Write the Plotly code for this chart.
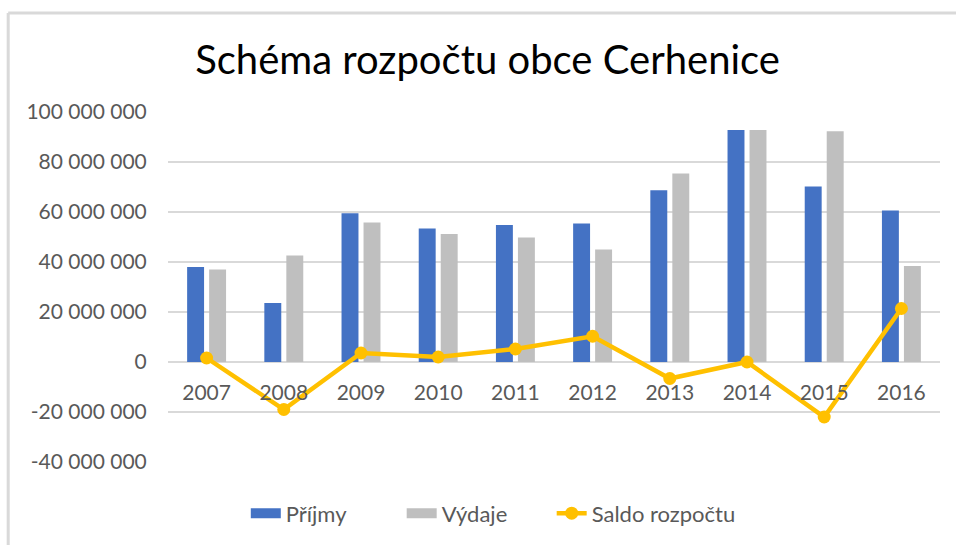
import plotly.graph_objects as go

# data
roky = ["2007", "2008", "2009", "2010", "2011", "2012", "2013", "2014", "2015", "2016"]
prijmy = [38.0e6, 23.6e6, 59.5e6, 53.4e6, 54.8e6, 55.4e6, 68.7e6, 92.8e6, 70.2e6, 60.6e6]
vydaje = [37.0e6, 42.6e6, 55.8e6, 51.2e6, 49.8e6, 45.0e6, 75.4e6, 92.8e6, 92.3e6, 38.4e6]
saldo = [1.6e6, -19.0e6, 3.6e6, 2.0e6, 5.2e6, 10.3e6, -6.6e6, 0.0, -22.0e6, 21.4e6]

y_ticks = [-40e6, -20e6, 0, 20e6, 40e6, 60e6, 80e6, 100e6]
y_ticktext = ["-40 000 000", "-20 000 000", "0", "20 000 000", "40 000 000",
              "60 000 000", "80 000 000", "100 000 000"]

FONT = "Lato"
GREY_TXT = "#595959"
GRID = "#D9D9D9"
BLUE, SILVER, GOLD = "#4472C4", "#BFBFBF", "#FFC000"
NBSP = "\u00a0"

fig = go.Figure()
fig.add_trace(go.Bar(x=roky, y=prijmy, name="Příjmy", marker_color=BLUE,
                     marker_line_width=0, showlegend=False))
fig.add_trace(go.Bar(x=roky, y=vydaje, name="Výdaje", marker_color=SILVER,
                     marker_line_width=0, showlegend=False))
# legend-only entries so the bar keys are wide blocks like in Excel
# (trailing no-break spaces widen the gaps between legend items)
fig.add_trace(go.Scatter(x=[None], y=[None], name="Příjmy" + NBSP * 9, mode="lines",
                         line=dict(color=BLUE, width=12)))
fig.add_trace(go.Scatter(x=[None], y=[None], name="Výdaje" + NBSP * 7, mode="lines",
                         line=dict(color=SILVER, width=12)))
fig.add_trace(go.Scatter(x=roky, y=saldo, name="Saldo rozpočtu", mode="lines+markers",
                         line=dict(color=GOLD, width=4.5),
                         marker=dict(size=13, color=GOLD)))

y_min, y_max = -40e6, 100e6

fig.update_layout(
    width=956, height=545,
    margin=dict(l=168, r=16, t=112, b=83, autoexpand=False),
    paper_bgcolor="white", plot_bgcolor="white",
    barmode="group", bargap=0.43, bargroupgap=0.23,
    font=dict(family=FONT, color=GREY_TXT, size=21),
    title=dict(text="Schéma rozpočtu obce Cerhenice", xref="container", x=0.51,
               xanchor="center", yref="container", y=0.89, yanchor="middle",
               font=dict(family=FONT, size=40, color="#000000")),
    legend=dict(orientation="h", xref="container", yref="container", x=0.516, y=0.058,
                xanchor="center", yanchor="middle", font=dict(size=22, color=GREY_TXT),
                tracegroupgap=0),
    xaxis=dict(anchor="free", position=(0 - y_min) / (y_max - y_min),
               range=[-0.5, len(roky) - 0.5],
               showline=False, showgrid=False, ticks="outside", ticklen=12,
               tickcolor="rgba(0,0,0,0)", tickfont=dict(size=21, color=GREY_TXT)),
    yaxis=dict(range=[y_min, y_max], tickvals=y_ticks, ticktext=y_ticktext,
               showgrid=True, gridcolor=GRID, gridwidth=2, zeroline=True,
               zerolinecolor=GRID, zerolinewidth=2, ticks="outside", ticklen=16,
               tickcolor="rgba(0,0,0,0)", tickfont=dict(size=21, color=GREY_TXT)),
)

# chart frame: only the top and left edge are visible in the reference
fig.add_shape(type="line", xref="paper", yref="paper", x0=-0.207, x1=1.03, y0=1.283, y1=1.283,
              line=dict(color=GRID, width=3))
fig.add_shape(type="line", xref="paper", yref="paper", x0=-0.207, x1=-0.207, y0=1.283, y1=-0.25,
              line=dict(color=GRID, width=3))

fig.write_html("out.html", config={"displayModeBar": False},
               post_script="document.body.style.margin='0';")
